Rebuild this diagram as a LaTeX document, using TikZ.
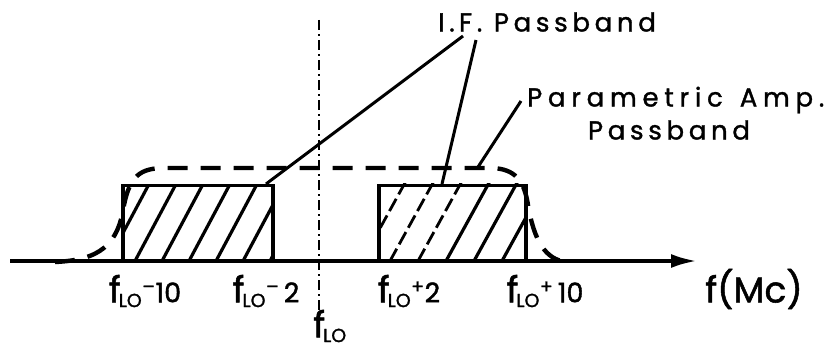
\documentclass[tikz,border=0pt]{standalone}
\usepackage{fontspec}
\setmainfont{Poppins}[LetterSpace=18,FakeBold=1.3]
\newfontfamily\widefont{Poppins}[LetterSpace=22,FakeBold=1.3]
\newfontfamily\labfont{Poppins}[FakeBold=1.4]
\usetikzlibrary{arrows.meta}
\newcommand\fLO{{\fontsize{36}{36}\selectfont f}\kern-2pt\textsubscript{LO}}
\begin{document}
\begin{tikzpicture}[x=1pt,y=-1pt,
  axisline/.style={line width=3.8pt,-{Latex[length=26pt,width=14pt]}},
  bandbox/.style={draw,line width=3.4pt,inner sep=0pt,minimum width=150pt,minimum height=76pt},
  hatchline/.style={line width=3.2pt},
  brokenhatch/.style={line width=2.8pt,dash pattern=on 14pt off 5pt},
  leader/.style={line width=3pt},
  ampcurve/.style={line width=4.4pt,dash pattern=on 20pt off 13pt},
  centreline/.style={line width=2pt,dash pattern=on 10pt off 4pt on 2pt off 4pt},
  lbl/.style={font=\fontsize{26}{30}\selectfont,inner sep=0pt},
  axlbl/.style={font=\labfont\fontsize{27}{30}\selectfont,inner sep=0pt}]
\useasboundingbox[fill=white] (0,0) rectangle (826,358);

% centre line
\coordinate (ctop) at (319,20);
\coordinate (cbot) at (319,312);
\draw[centreline] (ctop) -- (cbot);

% parametric amp passband (dashed)
\coordinate (pa0) at (55,262);
\coordinate (pa1) at (165,168);
\coordinate (pa2) at (492,168);
\coordinate (pa3) at (567,262);
\draw[ampcurve] (pa0) .. controls (100,260) and (118,245) .. (124,205)
  .. controls (130,176) and (140,168) .. (pa1) -- (pa2)
  .. controls (515,169) and (524,180) .. (528,205)
  .. controls (534,240) and (545,260) .. (pa3);

% I.F. boxes
\node[bandbox] (lbox) at (198,223.5) {};
\node[bandbox,minimum width=147pt] (rbox) at (452.5,223.5) {};

% hatching
\begin{scope}
\clip (lbox.south west) rectangle (lbox.north east);
\foreach \k in {0,...,6}
  \draw[hatchline] ({108+27*\k},261) -- ++(40,-75);
\end{scope}
\begin{scope}
\clip (rbox.south west) rectangle (rbox.north east);
\foreach \k in {0,1,2}
  \draw[brokenhatch] ({362+28*\k},261) -- ++(44,-80);
\foreach \k in {3,...,6}
  \draw[hatchline] ({362+28*\k},261) -- ++(44,-80);
\end{scope}

% axis
\coordinate (ax0) at (10,261);
\coordinate (ax1) at (697,261);
\draw[axisline] (ax0) -- (ax1);

% labels
\node[lbl,anchor=west] (ifp) at (438,22) {I.\,F. Passband};
\node[lbl,anchor=west,font=\widefont\fontsize{26}{30}\selectfont] (pamp) at (527,100) {Parametric\ \,Amp.};
\node[lbl] (pamp2) at (669,130) {Passband};

\coordinate (ifA) at (463,36);
\coordinate (ifB) at (476,40);
\coordinate (ifAend) at (266,184);
\coordinate (ifBend) at (442,184);
\coordinate (paA) at (521,101);
\coordinate (paB) at (478,167);
\draw[leader] (ifA) -- (ifAend);
\draw[leader] (ifB) -- (ifBend);
\draw[leader] (paA) -- (paB);

\node[axlbl] (lm10) at (145,291) {\fLO\textsuperscript{–}10};
\node[axlbl] (lm2) at (266,291) {\fLO\textsuperscript{–}\,2};
\node[axlbl] (lc) at (330,326) {\fLO};
\node[axlbl] (lp2) at (409,291) {\fLO\textsuperscript{+}2};
\node[axlbl] (lp10) at (545,291) {\fLO\textsuperscript{+}\,10};
\node[axlbl,font=\labfont\fontsize{36}{38}\selectfont] (fmc) at (754,289) {f(Mc)};
\end{tikzpicture}
\end{document}
